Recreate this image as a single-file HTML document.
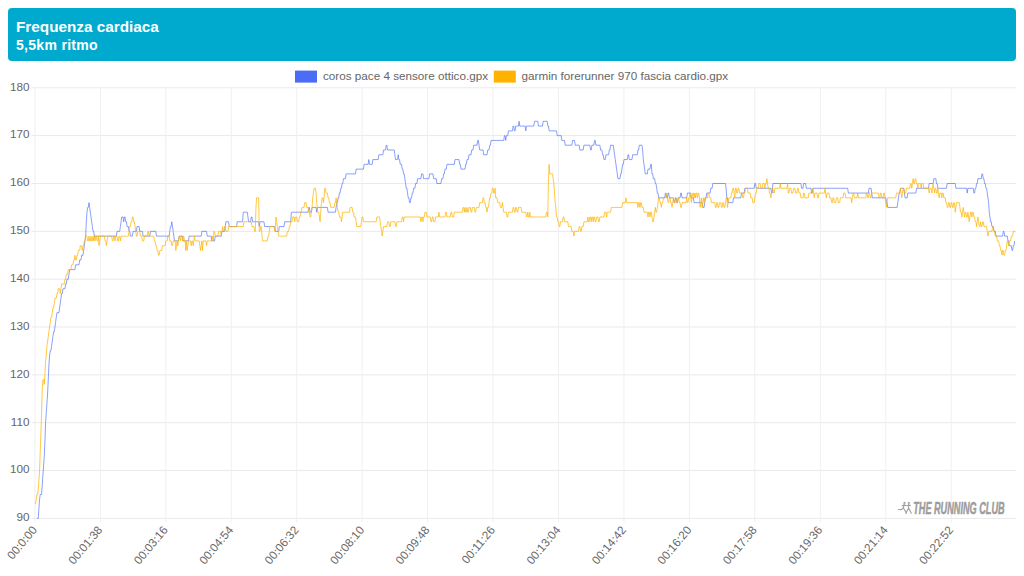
<!DOCTYPE html>
<html lang="it"><head><meta charset="utf-8"><title>Frequenza cardiaca</title>
<style>
html,body{margin:0;padding:0;background:#fff;}
body{width:1024px;height:576px;position:relative;overflow:hidden;font-family:"Liberation Sans",Arial,sans-serif;}
.hdr{position:absolute;left:8px;top:8px;width:1008px;height:53px;background:#00aace;border-radius:4px;color:#fff;}
.hdr .t{position:absolute;left:8px;top:9.6px;font-size:15.3px;font-weight:bold;line-height:18px;white-space:nowrap;}
.hdr .s{position:absolute;left:8px;top:28px;font-size:14px;font-weight:bold;letter-spacing:0.3px;line-height:18px;white-space:nowrap;}
svg{position:absolute;left:0;top:0;opacity:0.999;}
svg text{font-family:"Liberation Sans",Arial,sans-serif;font-size:11.7px;fill:#666;}
</style></head><body>
<div class="hdr"><div class="t">Frequenza cardiaca</div><div class="s">5,5km ritmo</div></div>
<svg width="1024" height="576" viewBox="0 0 1024 576">
<g stroke="#e6e6e6" stroke-width="1" shape-rendering="auto"><line x1="31.4" y1="87.80" x2="1016" y2="87.80" stroke="#e9e9e9"/><line x1="31.4" y1="135.64" x2="1016" y2="135.64" stroke="#e9e9e9"/><line x1="31.4" y1="183.49" x2="1016" y2="183.49" stroke="#e9e9e9"/><line x1="31.4" y1="231.33" x2="1016" y2="231.33" stroke="#e9e9e9"/><line x1="31.4" y1="279.18" x2="1016" y2="279.18" stroke="#e9e9e9"/><line x1="31.4" y1="327.02" x2="1016" y2="327.02" stroke="#e9e9e9"/><line x1="31.4" y1="374.87" x2="1016" y2="374.87" stroke="#e9e9e9"/><line x1="31.4" y1="422.71" x2="1016" y2="422.71" stroke="#e9e9e9"/><line x1="31.4" y1="470.56" x2="1016" y2="470.56" stroke="#e9e9e9"/><line x1="31.4" y1="518.40" x2="1016" y2="518.40" stroke="#e9e9e9"/><line x1="34.90" y1="87.8" x2="34.90" y2="522.4" stroke="#efefef"/><line x1="100.35" y1="87.8" x2="100.35" y2="522.4" stroke="#efefef"/><line x1="165.80" y1="87.8" x2="165.80" y2="522.4" stroke="#efefef"/><line x1="231.25" y1="87.8" x2="231.25" y2="522.4" stroke="#efefef"/><line x1="296.70" y1="87.8" x2="296.70" y2="522.4" stroke="#efefef"/><line x1="362.15" y1="87.8" x2="362.15" y2="522.4" stroke="#efefef"/><line x1="427.60" y1="87.8" x2="427.60" y2="522.4" stroke="#efefef"/><line x1="493.05" y1="87.8" x2="493.05" y2="522.4" stroke="#efefef"/><line x1="558.50" y1="87.8" x2="558.50" y2="522.4" stroke="#efefef"/><line x1="623.95" y1="87.8" x2="623.95" y2="522.4" stroke="#efefef"/><line x1="689.40" y1="87.8" x2="689.40" y2="522.4" stroke="#efefef"/><line x1="754.85" y1="87.8" x2="754.85" y2="522.4" stroke="#efefef"/><line x1="820.30" y1="87.8" x2="820.30" y2="522.4" stroke="#efefef"/><line x1="885.75" y1="87.8" x2="885.75" y2="522.4" stroke="#efefef"/><line x1="951.20" y1="87.8" x2="951.20" y2="522.4" stroke="#efefef"/></g>
<g><text x="29.5" y="90.60" text-anchor="end">180</text><text x="29.5" y="138.44" text-anchor="end">170</text><text x="29.5" y="186.29" text-anchor="end">160</text><text x="29.5" y="234.13" text-anchor="end">150</text><text x="29.5" y="281.98" text-anchor="end">140</text><text x="29.5" y="329.82" text-anchor="end">130</text><text x="29.5" y="377.67" text-anchor="end">120</text><text x="29.5" y="425.51" text-anchor="end">110</text><text x="29.5" y="473.36" text-anchor="end">100</text><text x="29.5" y="521.20" text-anchor="end">90</text></g>
<g><text transform="translate(34.50,527.7) rotate(-50)" text-anchor="end" y="4">00:0:00</text><text transform="translate(99.95,527.7) rotate(-50)" text-anchor="end" y="4">00:01:38</text><text transform="translate(165.40,527.7) rotate(-50)" text-anchor="end" y="4">00:03:16</text><text transform="translate(230.85,527.7) rotate(-50)" text-anchor="end" y="4">00:04:54</text><text transform="translate(296.30,527.7) rotate(-50)" text-anchor="end" y="4">00:06:32</text><text transform="translate(361.75,527.7) rotate(-50)" text-anchor="end" y="4">00:08:10</text><text transform="translate(427.20,527.7) rotate(-50)" text-anchor="end" y="4">00:09:48</text><text transform="translate(492.65,527.7) rotate(-50)" text-anchor="end" y="4">00:11:26</text><text transform="translate(558.10,527.7) rotate(-50)" text-anchor="end" y="4">00:13:04</text><text transform="translate(623.55,527.7) rotate(-50)" text-anchor="end" y="4">00:14:42</text><text transform="translate(689.00,527.7) rotate(-50)" text-anchor="end" y="4">00:16:20</text><text transform="translate(754.45,527.7) rotate(-50)" text-anchor="end" y="4">00:17:58</text><text transform="translate(819.90,527.7) rotate(-50)" text-anchor="end" y="4">00:19:36</text><text transform="translate(885.35,527.7) rotate(-50)" text-anchor="end" y="4">00:21:14</text><text transform="translate(950.80,527.7) rotate(-50)" text-anchor="end" y="4">00:22:52</text></g>
<rect x="295" y="70.6" width="22" height="12" fill="#4a6cf7"/>
<text x="323" y="80.3">coros pace 4 sensore ottico.gpx</text>
<rect x="493.8" y="70.6" width="22" height="12" fill="#ffb300"/>
<text x="521.6" y="80.3">garmin forerunner 970 fascia cardio.gpx</text>
<path d="M36.9,518.4 L38.24,518.4 L38.91,508.83 L39.58,499.26 L40.24,494.48 L41.58,494.48 L42.25,484.91 L42.91,475.34 L43.58,465.77 L44.25,456.2 L44.92,441.85 L45.59,422.71 L46.25,413.14 L46.92,403.57 L47.59,394 L48.26,379.65 L48.92,365.3 L49.59,355.73 L50.26,350.94 L50.93,350.94 L51.6,346.16 L52.26,341.38 L52.93,336.59 L53.6,331.81 L54.27,331.81 L54.94,327.02 L55.6,322.24 L56.27,317.45 L56.94,312.67 L58.94,312.67 L59.61,307.88 L60.28,303.1 L60.95,298.32 L61.61,293.53 L62.28,293.53 L62.95,288.75 L64.95,288.75 L65.62,283.96 L66.29,283.96 L66.96,279.18 L68.29,279.18 L68.96,274.39 L69.63,269.61 L74.97,269.61 L75.64,264.82 L78.98,264.82 L79.65,260.04 L80.98,260.04 L81.65,255.26 L82.99,255.26 L83.65,250.47 L84.32,245.69 L84.99,240.9 L85.66,236.12 L86.33,221.76 L86.99,212.2 L87.66,207.41 L88.33,207.41 L89,202.63 L89.66,207.41 L90.33,212.2 L91,216.98 L91.67,221.76 L92.34,226.55 L93,231.33 L93.67,231.33 L94.34,236.12 L116.38,236.12 L117.05,231.33 L119.72,231.33 L120.39,226.55 L121.05,221.76 L121.72,216.98 L123.06,216.98 L123.72,221.76 L124.39,216.98 L125.06,216.98 L125.73,221.76 L126.4,221.76 L127.06,226.55 L128.4,226.55 L129.07,231.33 L129.74,231.33 L130.4,236.12 L132.41,236.12 L133.08,231.33 L136.41,231.33 L137.08,226.55 L139.09,226.55 L139.75,231.33 L142.43,231.33 L143.09,236.12 L149.77,236.12 L150.44,231.33 L155.78,231.33 L156.45,236.12 L169.14,236.12 L169.81,231.33 L170.48,226.55 L171.14,226.55 L171.81,221.76 L172.48,226.55 L173.15,231.33 L173.81,236.12 L174.48,240.9 L178.49,240.9 L179.16,236.12 L182.5,236.12 L183.16,240.9 L188.51,240.9 L189.18,236.12 L201.2,236.12 L201.86,231.33 L206.54,231.33 L207.21,236.12 L211.21,236.12 L211.88,240.9 L214.55,240.9 L215.22,236.12 L221.23,236.12 L221.9,231.33 L224.57,231.33 L225.24,226.55 L225.91,221.76 L228.58,221.76 L229.25,226.55 L236.59,226.55 L237.26,221.76 L242.6,221.76 L243.27,212.2 L247.28,212.2 L247.95,216.98 L248.61,221.76 L250.62,221.76 L251.29,216.98 L251.95,216.98 L252.62,221.76 L258.63,221.76 L259.3,226.55 L259.97,221.76 L263.98,221.76 L264.64,226.55 L274.66,226.55 L275.33,231.33 L278.67,231.33 L279.34,226.55 L284.01,226.55 L284.68,221.76 L290.69,221.76 L291.36,212.2 L308.05,212.2 L308.72,207.41 L309.39,207.41 L310.06,212.2 L311.39,212.2 L312.06,207.41 L316.07,207.41 L316.74,212.2 L317.4,207.41 L327.42,207.41 L328.09,212.2 L335.44,212.2 L336.1,207.41 L336.77,202.63 L337.44,202.63 L338.11,197.84 L338.78,197.84 L339.44,193.06 L340.11,193.06 L340.78,188.27 L341.45,188.27 L342.11,183.49 L342.78,183.49 L343.45,178.7 L345.45,178.7 L346.12,173.92 L355.47,173.92 L356.14,169.14 L363.49,169.14 L364.15,164.35 L368.16,164.35 L368.83,159.57 L369.5,164.35 L372.17,164.35 L372.84,159.57 L378.18,159.57 L378.85,154.78 L382.85,154.78 L383.52,150 L385.53,150 L386.19,145.21 L386.86,145.21 L387.53,150 L394.21,150 L394.88,154.78 L395.54,159.57 L397.55,159.57 L398.21,154.78 L398.88,159.57 L399.55,159.57 L400.22,164.35 L401.55,164.35 L402.22,169.14 L402.89,169.14 L403.56,173.92 L404.23,173.92 L404.89,178.7 L405.56,183.49 L406.23,188.27 L406.9,188.27 L407.56,193.06 L408.23,197.84 L408.9,197.84 L409.57,202.63 L410.24,202.63 L410.9,197.84 L411.57,197.84 L412.24,193.06 L412.91,193.06 L413.57,188.27 L414.91,188.27 L415.58,183.49 L416.91,183.49 L417.58,178.7 L420.92,178.7 L421.59,173.92 L422.93,173.92 L423.59,178.7 L428.94,178.7 L429.6,173.92 L432.94,173.92 L433.61,178.7 L436.28,178.7 L436.95,183.49 L440.96,183.49 L441.62,178.7 L442.96,178.7 L443.63,173.92 L444.3,173.92 L444.96,169.14 L446.3,169.14 L446.97,164.35 L454.31,164.35 L454.98,159.57 L458.99,159.57 L459.66,164.35 L460.33,164.35 L460.99,169.14 L465,169.14 L465.67,164.35 L466.34,164.35 L467,159.57 L468.34,159.57 L469.01,154.78 L471.01,154.78 L471.68,150 L473.01,150 L473.68,145.21 L477.02,145.21 L477.69,140.43 L478.36,140.43 L479.03,145.21 L479.69,150 L483.03,150 L483.7,154.78 L487.04,154.78 L487.71,150 L489.04,150 L489.71,145.21 L490.38,145.21 L491.05,140.43 L503.74,140.43 L504.4,135.64 L505.07,135.64 L505.74,140.43 L506.41,135.64 L507.74,135.64 L508.41,130.86 L512.42,130.86 L513.09,126.08 L513.75,126.08 L514.42,130.86 L515.09,130.86 L515.76,126.08 L518.43,126.08 L519.1,121.29 L519.76,126.08 L525.11,126.08 L525.78,130.86 L526.44,126.08 L533.79,126.08 L534.46,121.29 L537.8,121.29 L538.46,126.08 L542.47,126.08 L543.14,121.29 L547.15,121.29 L547.81,126.08 L548.48,126.08 L549.15,130.86 L556.5,130.86 L557.16,135.64 L561.17,135.64 L561.84,140.43 L564.51,140.43 L565.18,145.21 L571.86,145.21 L572.52,140.43 L574.53,140.43 L575.2,145.21 L579.2,145.21 L579.87,150 L583.21,150 L583.88,145.21 L589.89,145.21 L590.56,150 L591.23,150 L591.89,145.21 L593.9,145.21 L594.56,140.43 L595.23,140.43 L595.9,145.21 L599.91,145.21 L600.58,150 L601.91,150 L602.58,154.78 L603.25,154.78 L603.91,159.57 L605.25,159.57 L605.92,154.78 L608.59,154.78 L609.26,150 L609.93,150 L610.59,145.21 L613.26,145.21 L613.93,150 L614.6,154.78 L615.27,159.57 L615.94,164.35 L616.6,169.14 L617.27,173.92 L617.94,178.7 L619.94,178.7 L620.61,173.92 L621.28,173.92 L621.95,169.14 L622.61,164.35 L623.28,164.35 L623.95,159.57 L627.29,159.57 L627.96,154.78 L628.62,154.78 L629.29,159.57 L631.96,159.57 L632.63,154.78 L637.31,154.78 L637.98,150 L638.64,150 L639.31,145.21 L641.98,145.21 L642.65,150 L643.32,159.57 L643.99,164.35 L644.65,169.14 L645.32,173.92 L647.33,173.92 L647.99,169.14 L650,169.14 L650.66,164.35 L651.33,164.35 L652,173.92 L652.67,173.92 L653.34,178.7 L654.67,178.7 L655.34,183.49 L656.01,183.49 L656.68,188.27 L657.34,193.06 L658.01,193.06 L658.68,197.84 L664.69,197.84 L665.36,193.06 L666.03,193.06 L666.69,197.84 L667.36,197.84 L668.03,193.06 L668.7,193.06 L669.36,197.84 L673.37,197.84 L674.04,202.63 L674.71,202.63 L675.38,197.84 L676.04,197.84 L676.71,202.63 L677.38,202.63 L678.05,197.84 L680.05,197.84 L680.72,193.06 L681.39,193.06 L682.05,197.84 L686.73,197.84 L687.4,193.06 L690.74,193.06 L691.4,197.84 L693.41,197.84 L694.08,202.63 L702.09,202.63 L702.76,207.41 L704.09,207.41 L704.76,202.63 L705.43,197.84 L706.1,197.84 L706.76,193.06 L710.1,193.06 L710.77,188.27 L712.11,188.27 L712.78,183.49 L725.46,183.49 L726.13,188.27 L726.8,197.84 L727.47,197.84 L728.14,202.63 L732.81,202.63 L733.48,197.84 L740.83,197.84 L741.49,193.06 L744.16,193.06 L744.83,188.27 L754.18,188.27 L754.85,183.49 L755.52,183.49 L756.19,188.27 L770.88,188.27 L771.55,193.06 L772.21,193.06 L772.88,183.49 L800.93,183.49 L801.6,188.27 L802.94,188.27 L803.6,183.49 L805.61,183.49 L806.28,188.27 L810.95,188.27 L811.62,193.06 L812.29,193.06 L812.95,188.27 L847.68,188.27 L848.35,193.06 L868.39,193.06 L869.05,188.27 L871.06,188.27 L871.73,193.06 L872.39,197.84 L885.75,197.84 L886.42,202.63 L887.09,202.63 L887.75,207.41 L897.1,207.41 L897.77,202.63 L898.44,197.84 L899.11,193.06 L899.78,193.06 L900.44,188.27 L903.78,188.27 L904.45,193.06 L905.12,197.84 L907.12,197.84 L907.79,193.06 L915.8,193.06 L916.47,188.27 L928.49,188.27 L929.16,183.49 L933.17,183.49 L933.84,178.7 L935.84,178.7 L936.51,183.49 L937.18,183.49 L937.84,188.27 L946.53,188.27 L947.19,183.49 L955.21,183.49 L955.88,188.27 L966.56,188.27 L967.23,193.06 L967.9,188.27 L973.24,188.27 L973.91,193.06 L974.58,193.06 L975.24,188.27 L975.91,188.27 L976.58,183.49 L977.25,183.49 L977.91,178.7 L981.25,178.7 L981.92,173.92 L982.59,173.92 L983.26,178.7 L983.93,178.7 L984.59,183.49 L985.26,183.49 L985.93,188.27 L986.6,188.27 L987.26,193.06 L987.93,197.84 L988.6,202.63 L989.27,212.2 L989.94,216.98 L990.6,221.76 L991.27,221.76 L991.94,226.55 L993.28,226.55 L993.94,231.33 L995.28,231.33 L995.95,236.12 L1002.63,236.12 L1003.29,231.33 L1003.96,231.33 L1004.63,236.12 L1007.3,236.12 L1007.97,240.9 L1008.64,240.9 L1009.3,245.69 L1011.31,245.69 L1011.98,250.47 L1012.64,250.47 L1013.31,245.69 L1013.98,245.69 L1014.65,240.9" fill="none" stroke="#4a6cf7" stroke-width="1" stroke-linejoin="round" opacity="0.64"/>
<path d="M35.57,504.05 L36.24,499.26 L36.9,494.48 L37.57,494.48 L38.24,489.69 L38.91,480.12 L39.58,470.56 L40.24,451.42 L40.91,432.28 L41.58,413.14 L42.25,389.22 L42.91,379.65 L43.58,379.65 L44.25,384.44 L44.92,374.87 L45.59,360.51 L46.25,355.73 L46.92,346.16 L47.59,341.38 L48.26,336.59 L48.92,331.81 L49.59,327.02 L50.26,322.24 L50.93,317.45 L51.6,317.45 L52.26,312.67 L52.93,307.88 L53.6,307.88 L54.27,303.1 L54.94,298.32 L56.27,298.32 L56.94,293.53 L57.61,293.53 L58.28,288.75 L59.61,288.75 L60.28,293.53 L60.95,288.75 L61.61,283.96 L64.29,283.96 L64.95,279.18 L65.62,279.18 L66.29,274.39 L67.62,274.39 L68.29,269.61 L70.96,269.61 L71.63,264.82 L72.97,264.82 L73.64,260.04 L74.3,260.04 L74.97,255.26 L75.64,260.04 L76.31,260.04 L76.97,255.26 L77.64,255.26 L78.31,250.47 L79.65,250.47 L80.31,245.69 L81.65,245.69 L82.32,250.47 L82.99,245.69 L83.65,245.69 L84.32,240.9 L84.99,240.9 L85.66,236.12 L86.99,236.12 L87.66,240.9 L88.33,240.9 L89,236.12 L89.66,240.9 L90.33,240.9 L91,236.12 L91.67,240.9 L92.34,240.9 L93,236.12 L93.67,240.9 L94.34,236.12 L95.01,240.9 L95.68,236.12 L96.34,236.12 L97.01,240.9 L97.68,240.9 L98.35,236.12 L99.01,245.69 L99.68,240.9 L100.35,236.12 L104.36,236.12 L105.03,240.9 L105.69,240.9 L106.36,245.69 L107.03,240.9 L107.7,236.12 L111.7,236.12 L112.37,240.9 L113.04,240.9 L113.71,236.12 L114.38,236.12 L115.04,240.9 L115.71,236.12 L117.05,236.12 L117.71,240.9 L118.38,240.9 L119.05,236.12 L119.72,236.12 L120.39,240.9 L121.05,236.12 L128.4,236.12 L129.07,231.33 L129.74,226.55 L130.4,226.55 L131.07,221.76 L131.74,221.76 L132.41,216.98 L133.08,216.98 L133.74,221.76 L134.41,221.76 L135.08,226.55 L135.75,231.33 L136.41,236.12 L137.08,236.12 L137.75,231.33 L139.75,231.33 L140.42,236.12 L141.76,236.12 L142.43,240.9 L143.76,240.9 L144.43,236.12 L147.1,236.12 L147.77,231.33 L148.44,231.33 L149.1,236.12 L153.78,236.12 L154.45,240.9 L155.11,240.9 L155.78,245.69 L156.45,245.69 L157.12,250.47 L157.79,250.47 L158.45,255.26 L159.12,255.26 L159.79,250.47 L161.79,250.47 L162.46,245.69 L165.13,245.69 L165.8,240.9 L167.14,240.9 L167.8,236.12 L169.14,236.12 L169.81,240.9 L171.14,240.9 L171.81,245.69 L172.48,245.69 L173.15,240.9 L175.15,240.9 L175.82,250.47 L176.49,245.69 L177.15,240.9 L177.82,245.69 L178.49,240.9 L179.16,236.12 L179.83,236.12 L180.49,240.9 L181.16,236.12 L181.83,236.12 L182.5,240.9 L183.16,236.12 L183.83,236.12 L184.5,240.9 L185.17,240.9 L185.84,250.47 L186.5,240.9 L187.17,250.47 L187.84,245.69 L188.51,240.9 L190.51,240.9 L191.18,245.69 L191.85,240.9 L192.51,240.9 L193.18,245.69 L193.85,240.9 L194.52,236.12 L195.19,240.9 L199.19,240.9 L199.86,245.69 L200.53,250.47 L201.2,245.69 L201.86,240.9 L202.53,250.47 L203.2,240.9 L205.87,240.9 L206.54,245.69 L207.21,240.9 L211.88,240.9 L212.55,236.12 L213.22,240.9 L213.89,231.33 L214.55,231.33 L215.22,236.12 L217.89,236.12 L218.56,231.33 L220.56,231.33 L221.23,236.12 L221.9,231.33 L222.57,226.55 L223.24,231.33 L223.9,231.33 L224.57,226.55 L225.24,226.55 L225.91,231.33 L227.91,231.33 L228.58,226.55 L243.27,226.55 L243.94,221.76 L251.29,221.76 L251.95,226.55 L253.96,226.55 L254.63,231.33 L255.29,231.33 L255.96,207.41 L256.63,197.84 L258.63,197.84 L259.3,231.33 L259.97,231.33 L260.64,226.55 L261.3,226.55 L261.97,236.12 L262.64,240.9 L267.31,240.9 L267.98,236.12 L268.65,236.12 L269.32,231.33 L269.99,226.55 L273.99,226.55 L274.66,231.33 L275.33,226.55 L276,216.98 L276.66,221.76 L277.33,226.55 L278,231.33 L278.67,236.12 L286.68,236.12 L287.35,231.33 L288.69,231.33 L289.35,226.55 L290.02,226.55 L290.69,221.76 L292.02,221.76 L292.69,216.98 L294.03,216.98 L294.7,221.76 L295.36,216.98 L296.7,216.98 L297.37,221.76 L298.7,221.76 L299.37,216.98 L300.04,216.98 L300.71,212.2 L301.38,212.2 L302.04,207.41 L304.05,207.41 L304.71,202.63 L306.05,202.63 L306.72,207.41 L308.05,207.41 L308.72,212.2 L309.39,212.2 L310.06,216.98 L310.73,216.98 L311.39,212.2 L312.06,207.41 L312.73,197.84 L313.4,193.06 L314.06,188.27 L315.4,188.27 L316.07,193.06 L316.74,202.63 L317.4,212.2 L318.74,212.2 L319.41,216.98 L320.07,221.76 L320.74,212.2 L321.41,202.63 L322.08,197.84 L322.75,197.84 L323.41,202.63 L324.08,197.84 L324.75,188.27 L325.42,188.27 L326.09,193.06 L327.42,193.06 L328.09,197.84 L328.76,197.84 L329.43,202.63 L330.09,202.63 L330.76,207.41 L334.1,207.41 L334.77,202.63 L335.44,202.63 L336.1,197.84 L336.77,202.63 L337.44,207.41 L338.11,212.2 L338.78,212.2 L339.44,216.98 L340.78,216.98 L341.45,221.76 L342.11,216.98 L342.78,212.2 L349.46,212.2 L350.13,207.41 L352.13,207.41 L352.8,212.2 L353.47,212.2 L354.14,216.98 L355.47,216.98 L356.14,221.76 L356.81,226.55 L360.81,226.55 L361.48,221.76 L362.15,216.98 L362.82,216.98 L363.49,221.76 L376.18,221.76 L376.84,216.98 L379.51,216.98 L380.18,221.76 L380.85,226.55 L381.52,231.33 L382.19,236.12 L382.85,231.33 L383.52,226.55 L386.86,226.55 L387.53,221.76 L388.86,221.76 L389.53,226.55 L390.2,226.55 L390.87,221.76 L394.88,221.76 L395.54,226.55 L396.21,226.55 L396.88,221.76 L401.55,221.76 L402.22,216.98 L402.89,216.98 L403.56,221.76 L404.23,216.98 L420.25,216.98 L420.92,221.76 L421.59,216.98 L422.26,216.98 L422.93,221.76 L423.59,216.98 L424.26,216.98 L424.93,212.2 L426.26,212.2 L426.93,216.98 L430.27,216.98 L430.94,221.76 L431.61,221.76 L432.28,216.98 L432.94,216.98 L433.61,221.76 L434.95,221.76 L435.61,216.98 L438.29,216.98 L438.95,212.2 L439.62,216.98 L444.96,216.98 L445.63,212.2 L446.3,212.2 L446.97,216.98 L450.31,216.98 L450.98,212.2 L451.64,212.2 L452.31,216.98 L453.65,216.98 L454.31,212.2 L462.33,212.2 L463,207.41 L463.66,207.41 L464.33,212.2 L465,207.41 L465.67,212.2 L466.34,212.2 L467,207.41 L467.67,212.2 L468.34,212.2 L469.01,207.41 L470.34,207.41 L471.01,212.2 L471.68,212.2 L472.35,207.41 L474.35,207.41 L475.02,212.2 L475.69,212.2 L476.35,207.41 L479.03,207.41 L479.69,202.63 L482.36,202.63 L483.03,197.84 L483.7,197.84 L484.37,202.63 L485.04,202.63 L485.7,207.41 L486.37,207.41 L487.04,212.2 L487.71,207.41 L488.38,207.41 L489.04,202.63 L489.71,197.84 L490.38,197.84 L491.05,193.06 L491.71,193.06 L492.38,188.27 L493.05,188.27 L493.72,193.06 L494.39,193.06 L495.05,188.27 L495.72,197.84 L497.06,197.84 L497.73,202.63 L499.73,202.63 L500.4,207.41 L501.73,207.41 L502.4,202.63 L503.07,207.41 L503.74,212.2 L506.41,212.2 L507.08,216.98 L507.74,216.98 L508.41,212.2 L512.42,212.2 L513.09,207.41 L513.75,207.41 L514.42,212.2 L515.09,212.2 L515.76,207.41 L516.43,207.41 L517.09,212.2 L517.76,212.2 L518.43,207.41 L521.1,207.41 L521.77,212.2 L525.78,212.2 L526.44,216.98 L527.11,216.98 L527.78,212.2 L528.45,216.98 L529.11,216.98 L529.78,212.2 L530.45,216.98 L545.81,216.98 L546.48,212.2 L547.15,212.2 L547.81,216.98 L548.48,178.7 L549.15,164.35 L549.82,173.92 L552.49,173.92 L553.16,178.7 L553.83,183.49 L554.49,193.06 L555.16,202.63 L555.83,207.41 L556.5,216.98 L557.16,216.98 L557.83,221.76 L558.5,221.76 L559.17,226.55 L559.84,226.55 L560.5,221.76 L562.51,221.76 L563.18,216.98 L563.84,216.98 L564.51,221.76 L567.85,221.76 L568.52,226.55 L571.19,226.55 L571.86,231.33 L573.19,231.33 L573.86,236.12 L574.53,231.33 L578.54,231.33 L579.2,226.55 L579.87,226.55 L580.54,231.33 L581.21,231.33 L581.88,226.55 L583.21,226.55 L583.88,221.76 L587.22,221.76 L587.89,216.98 L588.55,221.76 L589.22,221.76 L589.89,216.98 L590.56,216.98 L591.23,221.76 L591.89,216.98 L592.56,216.98 L593.23,221.76 L593.9,216.98 L594.56,216.98 L595.23,221.76 L595.9,221.76 L596.57,216.98 L597.9,216.98 L598.57,221.76 L599.24,221.76 L599.91,216.98 L603.91,216.98 L604.58,212.2 L605.92,212.2 L606.59,216.98 L607.25,212.2 L610.59,212.2 L611.26,207.41 L621.95,207.41 L622.61,202.63 L625.29,202.63 L625.95,197.84 L626.62,202.63 L637.31,202.63 L637.98,207.41 L638.64,202.63 L639.31,202.63 L639.98,207.41 L640.65,202.63 L641.31,202.63 L641.98,207.41 L643.32,207.41 L643.99,212.2 L647.33,212.2 L647.99,216.98 L648.66,212.2 L649.33,212.2 L650,216.98 L650.66,212.2 L651.33,212.2 L652,216.98 L652.67,221.76 L653.34,221.76 L654,216.98 L654.67,212.2 L655.34,207.41 L656.01,212.2 L656.68,212.2 L657.34,207.41 L658.01,202.63 L658.68,197.84 L659.35,197.84 L660.01,202.63 L660.68,202.63 L661.35,207.41 L662.02,202.63 L662.69,202.63 L663.35,197.84 L665.36,197.84 L666.03,193.06 L666.69,197.84 L667.36,197.84 L668.03,202.63 L668.7,202.63 L669.36,197.84 L670.03,197.84 L670.7,202.63 L671.37,202.63 L672.04,207.41 L672.7,202.63 L673.37,197.84 L674.04,202.63 L674.71,202.63 L675.38,197.84 L676.04,197.84 L676.71,202.63 L677.38,202.63 L678.05,197.84 L678.71,197.84 L679.38,202.63 L680.05,202.63 L680.72,207.41 L681.39,207.41 L682.05,202.63 L686.06,202.63 L686.73,197.84 L687.4,202.63 L688.06,202.63 L688.73,197.84 L689.4,197.84 L690.07,193.06 L690.74,197.84 L691.4,202.63 L692.07,197.84 L692.74,193.06 L693.41,193.06 L694.08,197.84 L694.74,193.06 L695.41,197.84 L696.08,193.06 L696.75,193.06 L697.41,197.84 L698.08,193.06 L698.75,193.06 L699.42,197.84 L700.09,207.41 L700.75,202.63 L701.42,197.84 L702.09,207.41 L702.76,202.63 L703.43,197.84 L704.09,202.63 L704.76,197.84 L707.43,197.84 L708.1,193.06 L708.77,193.06 L709.44,197.84 L710.77,197.84 L711.44,202.63 L714.78,202.63 L715.45,207.41 L716.11,207.41 L716.78,202.63 L717.45,202.63 L718.12,207.41 L718.79,207.41 L719.45,202.63 L720.79,202.63 L721.46,207.41 L722.12,207.41 L722.79,202.63 L723.46,202.63 L724.13,207.41 L724.8,207.41 L725.46,202.63 L726.13,197.84 L726.8,197.84 L727.47,207.41 L728.14,202.63 L728.8,197.84 L730.81,197.84 L731.48,193.06 L732.14,193.06 L732.81,188.27 L733.48,188.27 L734.15,193.06 L734.81,197.84 L735.48,188.27 L736.15,188.27 L736.82,193.06 L737.49,193.06 L738.15,188.27 L738.82,188.27 L739.49,193.06 L742.16,193.06 L742.83,197.84 L743.5,197.84 L744.16,193.06 L744.83,193.06 L745.5,188.27 L747.5,188.27 L748.17,193.06 L750.18,193.06 L750.84,197.84 L752.18,197.84 L752.85,202.63 L754.18,202.63 L754.85,197.84 L755.52,193.06 L756.19,193.06 L756.85,188.27 L758.19,188.27 L758.86,183.49 L760.19,183.49 L760.86,188.27 L762.2,188.27 L762.86,183.49 L764.2,183.49 L764.87,188.27 L765.54,183.49 L766.2,183.49 L766.87,178.7 L767.54,183.49 L768.21,188.27 L768.88,188.27 L769.54,193.06 L770.21,193.06 L770.88,197.84 L771.55,193.06 L772.21,188.27 L772.88,188.27 L773.55,193.06 L774.22,193.06 L774.89,188.27 L779.56,188.27 L780.23,183.49 L780.9,188.27 L786.91,188.27 L787.58,183.49 L788.24,193.06 L788.91,193.06 L789.58,188.27 L790.91,188.27 L791.58,193.06 L792.92,193.06 L793.59,188.27 L794.92,188.27 L795.59,193.06 L796.93,193.06 L797.59,188.27 L798.26,188.27 L798.93,193.06 L800.26,193.06 L800.93,197.84 L802.94,197.84 L803.6,193.06 L804.27,193.06 L804.94,197.84 L808.28,197.84 L808.95,193.06 L812.29,193.06 L812.95,188.27 L813.62,193.06 L814.29,197.84 L814.96,193.06 L816.96,193.06 L817.63,197.84 L818.3,197.84 L818.96,193.06 L824.31,193.06 L824.98,188.27 L825.64,193.06 L826.31,197.84 L826.98,193.06 L828.98,193.06 L829.65,197.84 L830.99,197.84 L831.65,202.63 L832.32,202.63 L832.99,197.84 L833.66,197.84 L834.33,202.63 L835.66,202.63 L836.33,197.84 L837.66,197.84 L838.33,202.63 L839.67,202.63 L840.34,197.84 L843.01,197.84 L843.68,193.06 L845.01,193.06 L845.68,197.84 L851.02,197.84 L851.69,202.63 L852.36,197.84 L853.03,193.06 L853.69,193.06 L854.36,197.84 L857.03,197.84 L857.7,193.06 L858.37,197.84 L865.71,197.84 L866.38,193.06 L867.05,193.06 L867.72,197.84 L868.39,197.84 L869.05,193.06 L869.72,193.06 L870.39,197.84 L871.06,197.84 L871.73,193.06 L878.4,193.06 L879.07,197.84 L879.74,197.84 L880.41,193.06 L881.08,193.06 L881.74,197.84 L883.08,197.84 L883.75,193.06 L884.41,193.06 L885.08,197.84 L885.75,202.63 L886.42,207.41 L887.09,202.63 L887.75,197.84 L895.77,197.84 L896.44,193.06 L899.78,193.06 L900.44,188.27 L901.11,193.06 L901.78,197.84 L902.45,193.06 L903.11,188.27 L903.78,188.27 L904.45,193.06 L905.79,193.06 L906.45,188.27 L909.79,188.27 L910.46,183.49 L911.13,183.49 L911.8,188.27 L912.46,183.49 L913.13,178.7 L913.8,183.49 L914.47,183.49 L915.14,178.7 L915.8,178.7 L916.47,183.49 L917.14,183.49 L917.81,188.27 L918.48,183.49 L920.48,183.49 L921.15,188.27 L921.81,183.49 L923.15,183.49 L923.82,188.27 L928.49,188.27 L929.16,193.06 L929.83,188.27 L931.16,188.27 L931.83,193.06 L932.5,188.27 L933.17,183.49 L933.84,188.27 L934.5,193.06 L935.17,188.27 L935.84,188.27 L936.51,193.06 L937.18,193.06 L937.84,188.27 L938.51,193.06 L939.18,197.84 L939.85,193.06 L941.18,193.06 L941.85,197.84 L942.52,193.06 L943.19,193.06 L943.85,197.84 L945.19,197.84 L945.86,202.63 L946.53,202.63 L947.19,207.41 L947.86,207.41 L948.53,202.63 L949.2,202.63 L949.86,207.41 L950.53,207.41 L951.2,202.63 L951.87,202.63 L952.54,207.41 L953.2,207.41 L953.87,202.63 L954.54,202.63 L955.21,212.2 L955.88,207.41 L956.54,202.63 L959.21,202.63 L959.88,207.41 L960.55,212.2 L961.22,212.2 L961.89,216.98 L962.55,212.2 L963.22,207.41 L963.89,212.2 L964.56,216.98 L965.23,212.2 L965.89,212.2 L966.56,216.98 L967.23,216.98 L967.9,212.2 L968.56,216.98 L969.23,221.76 L969.9,216.98 L970.57,212.2 L971.24,212.2 L971.9,216.98 L972.57,212.2 L973.24,212.2 L973.91,216.98 L974.58,216.98 L975.24,221.76 L975.91,221.76 L976.58,226.55 L977.25,221.76 L977.91,216.98 L978.58,221.76 L979.25,226.55 L979.92,226.55 L980.59,221.76 L981.25,226.55 L981.92,226.55 L982.59,221.76 L983.26,221.76 L983.93,226.55 L986.6,226.55 L987.26,231.33 L987.93,236.12 L988.6,231.33 L991.94,231.33 L992.61,226.55 L993.28,226.55 L993.94,231.33 L994.61,231.33 L995.28,236.12 L996.61,236.12 L997.28,240.9 L998.62,240.9 L999.29,245.69 L999.95,245.69 L1000.62,250.47 L1001.29,250.47 L1001.96,255.26 L1002.63,250.47 L1003.29,250.47 L1003.96,255.26 L1004.63,255.26 L1005.3,250.47 L1005.96,250.47 L1006.63,245.69 L1007.3,240.9 L1007.97,240.9 L1008.64,245.69 L1009.3,240.9 L1010.64,240.9 L1011.31,236.12 L1012.64,236.12 L1013.31,231.33 L1015.31,231.33" fill="none" stroke="#ffb300" stroke-width="1" stroke-linejoin="round" opacity="0.72"/>
<g id="wm" fill="none" stroke="#a4a4a4" stroke-width="1.2" stroke-linecap="round" stroke-linejoin="round">
<circle cx="904.4" cy="502.9" r="0.8" fill="#9c9c9c" stroke-width="0.5"/>
<path d="M904.2,504 L903.3,508 M902.2,505.7 L905.8,505.3 M903.3,508 L901.5,509.6 L898.4,509.5 M903.3,508 L905,510.5 L906.4,513.2"/>
<circle cx="908.8" cy="502.9" r="0.8" fill="#9c9c9c" stroke-width="0.5"/>
<path d="M908.7,504 L908.6,508.2 M906.6,505.6 L910.4,505.3 M908.6,508.2 L907,511 L905.9,513 M908.6,508.2 L910,510.8 L911.3,513.2"/>
<text transform="translate(913.2,513.6) scale(0.572,1)" style="font-size:16px;font-weight:bold;font-style:italic;fill:#9c9c9c;stroke:#9c9c9c;stroke-width:0.5px">THE RUNNING CLUB</text>
</g>
</svg>
</body></html>
